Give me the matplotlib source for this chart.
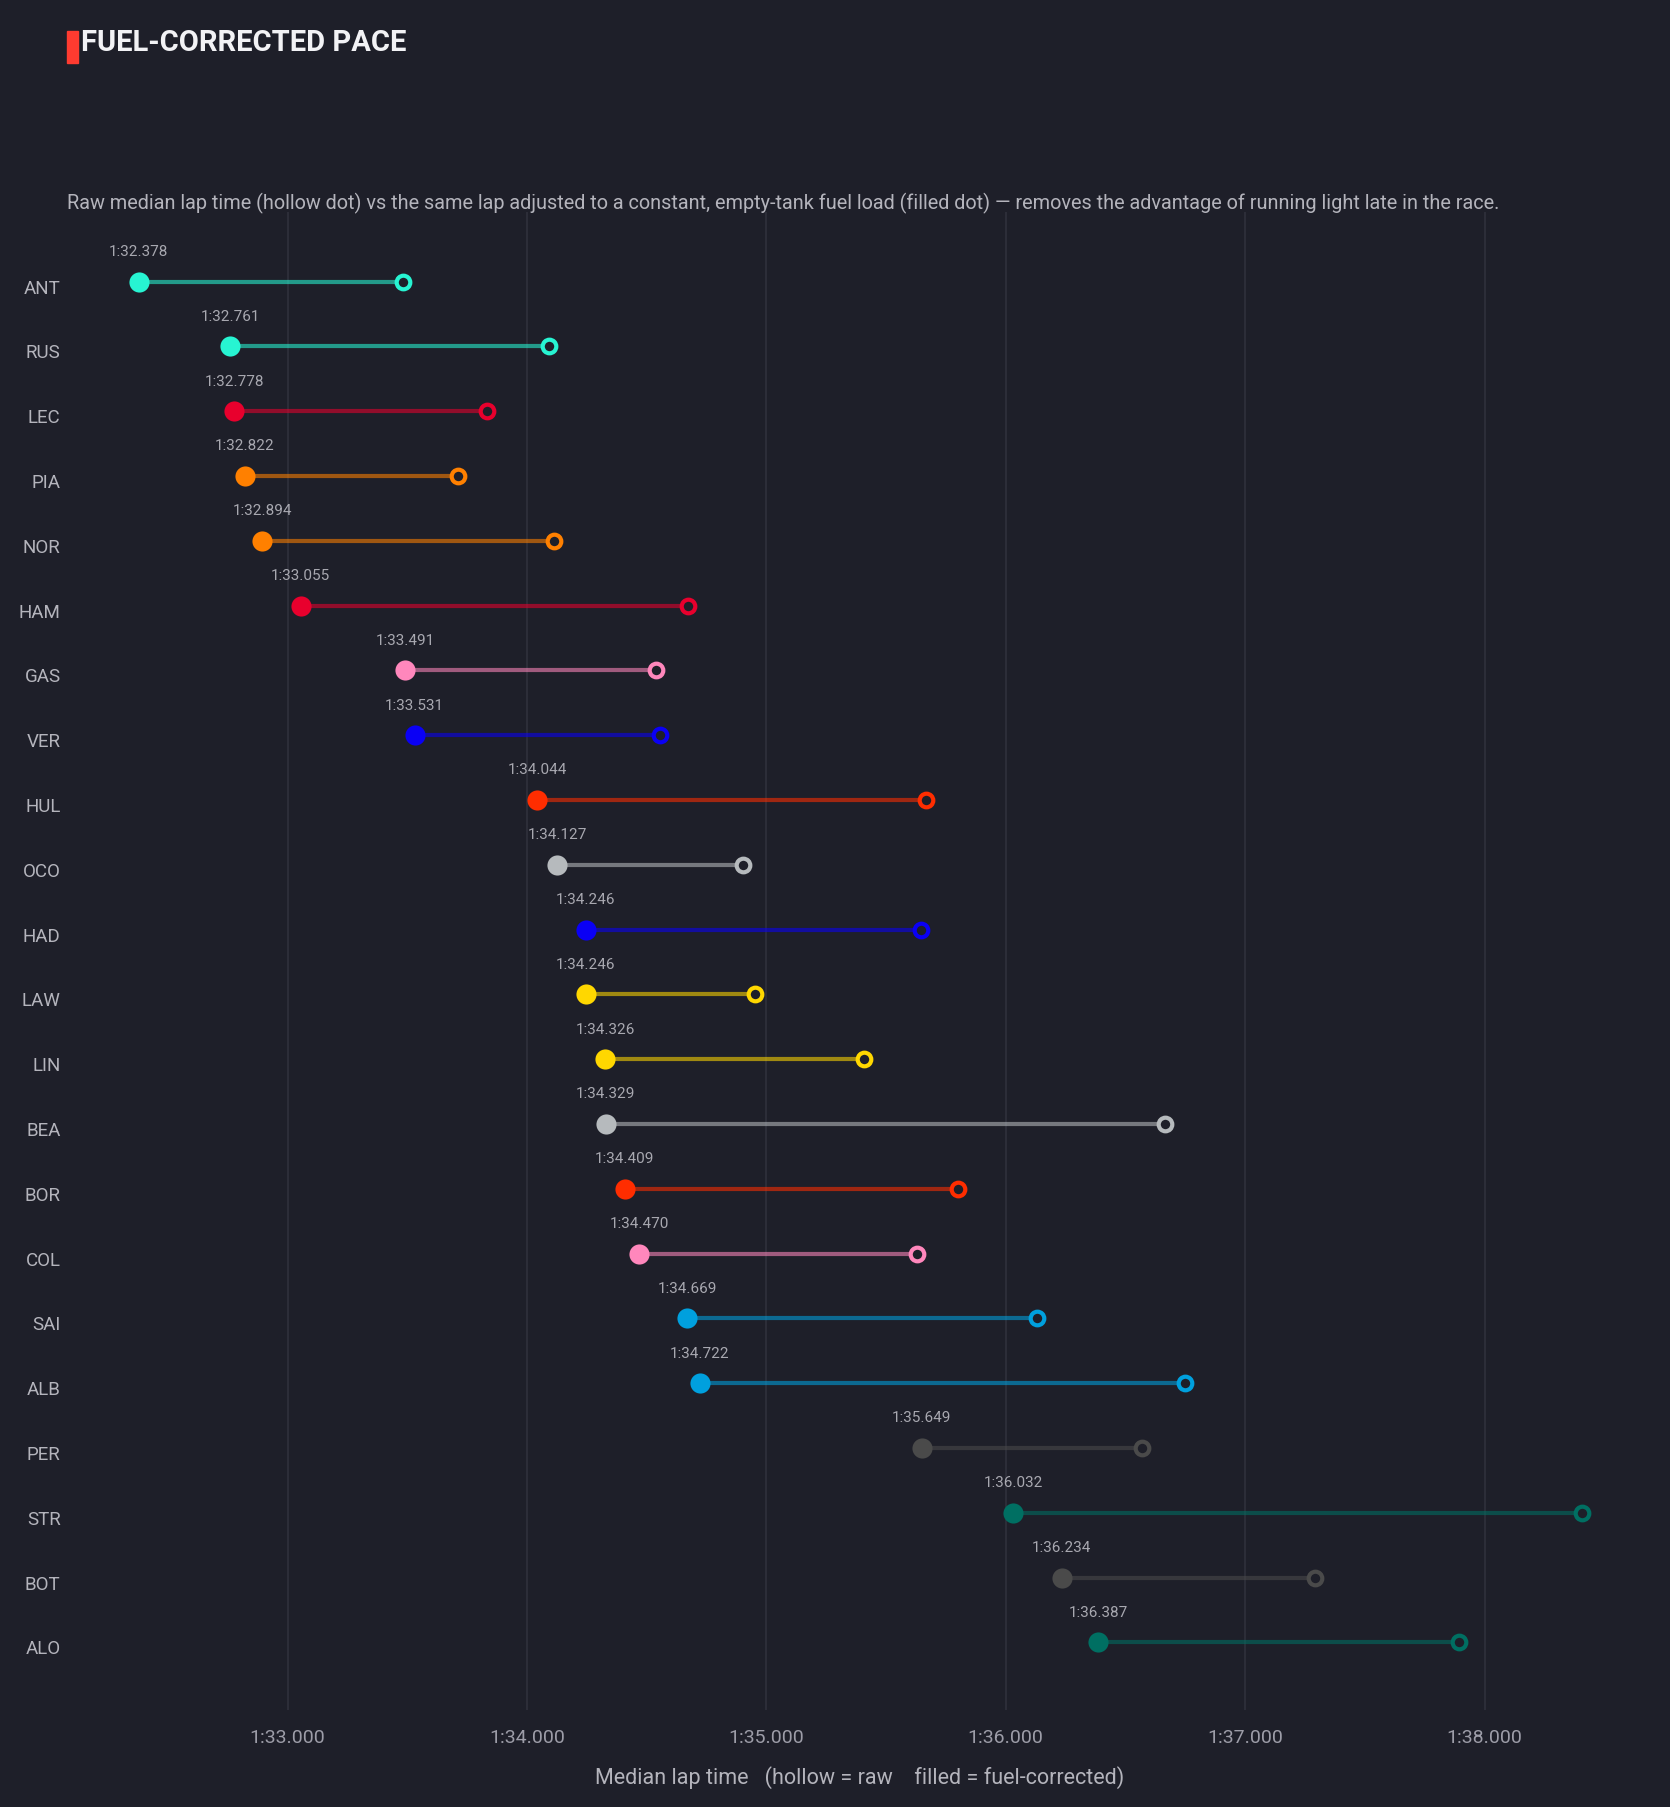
import matplotlib.pyplot as plt
from matplotlib.patches import Rectangle
from matplotlib.transforms import ScaledTranslation

# driver order (fastest fuel-corrected first)
drivers = ['ANT', 'RUS', 'LEC', 'PIA', 'NOR', 'HAM', 'GAS', 'VER', 'HUL', 'OCO', 'HAD',
           'LAW', 'LIN', 'BEA', 'BOR', 'COL', 'SAI', 'ALB', 'PER', 'STR', 'BOT', 'ALO']
teams = ['Mercedes', 'Mercedes', 'Ferrari', 'McLaren', 'McLaren', 'Ferrari', 'Alpine', 'Red Bull',
         'Audi', 'Haas', 'Red Bull', 'Racing Bulls', 'Racing Bulls', 'Haas', 'Audi', 'Alpine',
         'Williams', 'Williams', 'Cadillac', 'Aston Martin', 'Cadillac', 'Aston Martin']
# seconds
corrected = [92.378, 92.761, 92.778, 92.822, 92.894, 93.055, 93.491, 93.531, 94.044, 94.127, 94.246,
             94.246, 94.326, 94.329, 94.409, 94.470, 94.669, 94.722, 95.649, 96.032, 96.234, 96.387]
raw = [93.482, 94.093, 93.833, 93.713, 94.113, 94.671, 94.541, 94.556, 95.669, 94.903, 95.645,
       94.951, 95.408, 96.666, 95.799, 95.630, 96.131, 96.748, 96.569, 98.409, 97.292, 97.894]
xticks = [93, 94, 95, 96, 97, 98]

team_colors = {
    'Mercedes': '#27F4D2', 'Ferrari': '#E8002D', 'McLaren': '#FF8000', 'Alpine': '#FF87BC',
    'Red Bull': '#0A00F5', 'Audi': '#FF2D00', 'Haas': '#B6BABD', 'Racing Bulls': '#FFD700',
    'Williams': '#00A0DE', 'Cadillac': '#4A4A4A', 'Aston Martin': '#006F62',
}

BG = '#1e1f29'
GRID = '#2f303c'
TXT = '#b4b4bc'
FONT = ['Roboto', 'DejaVu Sans']


def laptime(s):
    m = int(s // 60)
    return f"{m}:{s - 60 * m:06.3f}"


plt.rcParams['font.family'] = FONT

fig = plt.figure(figsize=(16.7, 18.08), dpi=100, facecolor=BG)
ax = fig.add_axes([80 / 1670, 1 - 1711 / 1808, (1640 - 80) / 1670, (1711 - 213) / 1808])
ax.set_facecolor(BG)

for i, d in enumerate(drivers):
    c = team_colors[teams[i]]
    ax.plot([corrected[i], raw[i]], [i, i], color=c, alpha=0.58, lw=3.0, zorder=2,
            solid_capstyle='butt')
    ax.plot(corrected[i], i, 'o', ms=14.5, color=c, mec='none', zorder=3)
    ax.plot(raw[i], i, 'o', ms=9.8, mfc=BG, mec=c, mew=3.0, zorder=4)
    ax.annotate(laptime(corrected[i]), (corrected[i], i), xytext=(0, 22),
                textcoords='offset points', ha='center', va='center',
                fontsize=11, color='#a8a8b0')

ax.set_xlim(93 + (80 - 287.5) / 239.4, 93 + (1640 - 287.5) / 239.4)
ax.set_ylim(len(drivers) - 1 + 1.043, -1.074)
ax.set_yticks(range(len(drivers)))
ax.set_yticklabels(drivers, fontsize=13.5, color=TXT)
ax.set_xticks(xticks)
ax.set_xticklabels([laptime(x) for x in xticks], fontsize=14, color='#9d9da8')
ax.tick_params(axis='both', length=0)
ax.tick_params(axis='x', pad=13)
ax.tick_params(axis='y', pad=14)
# driver codes sit a touch below the row centre
shift = ScaledTranslation(0, -4 / 100, fig.dpi_scale_trans)
for lab in ax.get_yticklabels():
    lab.set_transform(lab.get_transform() + shift)
ax.grid(axis='x', color=GRID, lw=1.2)
ax.set_axisbelow(True)
for sp in ax.spines.values():
    sp.set_visible(False)

ax.set_xlabel('Median lap time   (hollow = raw    filled = fuel-corrected)',
              fontsize=15.5, color=TXT, labelpad=14)

# title block
fig.patches.append(Rectangle((67 / 1670, 1 - 64 / 1808), 11 / 1670, 32 / 1808,
                             transform=fig.transFigure, color='#ff3b30'))
fig.text(81 / 1670, 1 - 43 / 1808, 'FUEL-CORRECTED PACE', fontsize=21, fontweight='bold',
         color='#f2f2f5', va='center', ha='left')
fig.text(67 / 1670, 1 - 203 / 1808,
         'Raw median lap time (hollow dot) vs the same lap adjusted to a constant, empty-tank fuel load '
         '(filled dot) \u2014 removes the advantage of running light late in the race.',
         fontsize=14.3, color=TXT, va='center', ha='left')

fig.savefig('out.png', dpi=100, facecolor=BG)
